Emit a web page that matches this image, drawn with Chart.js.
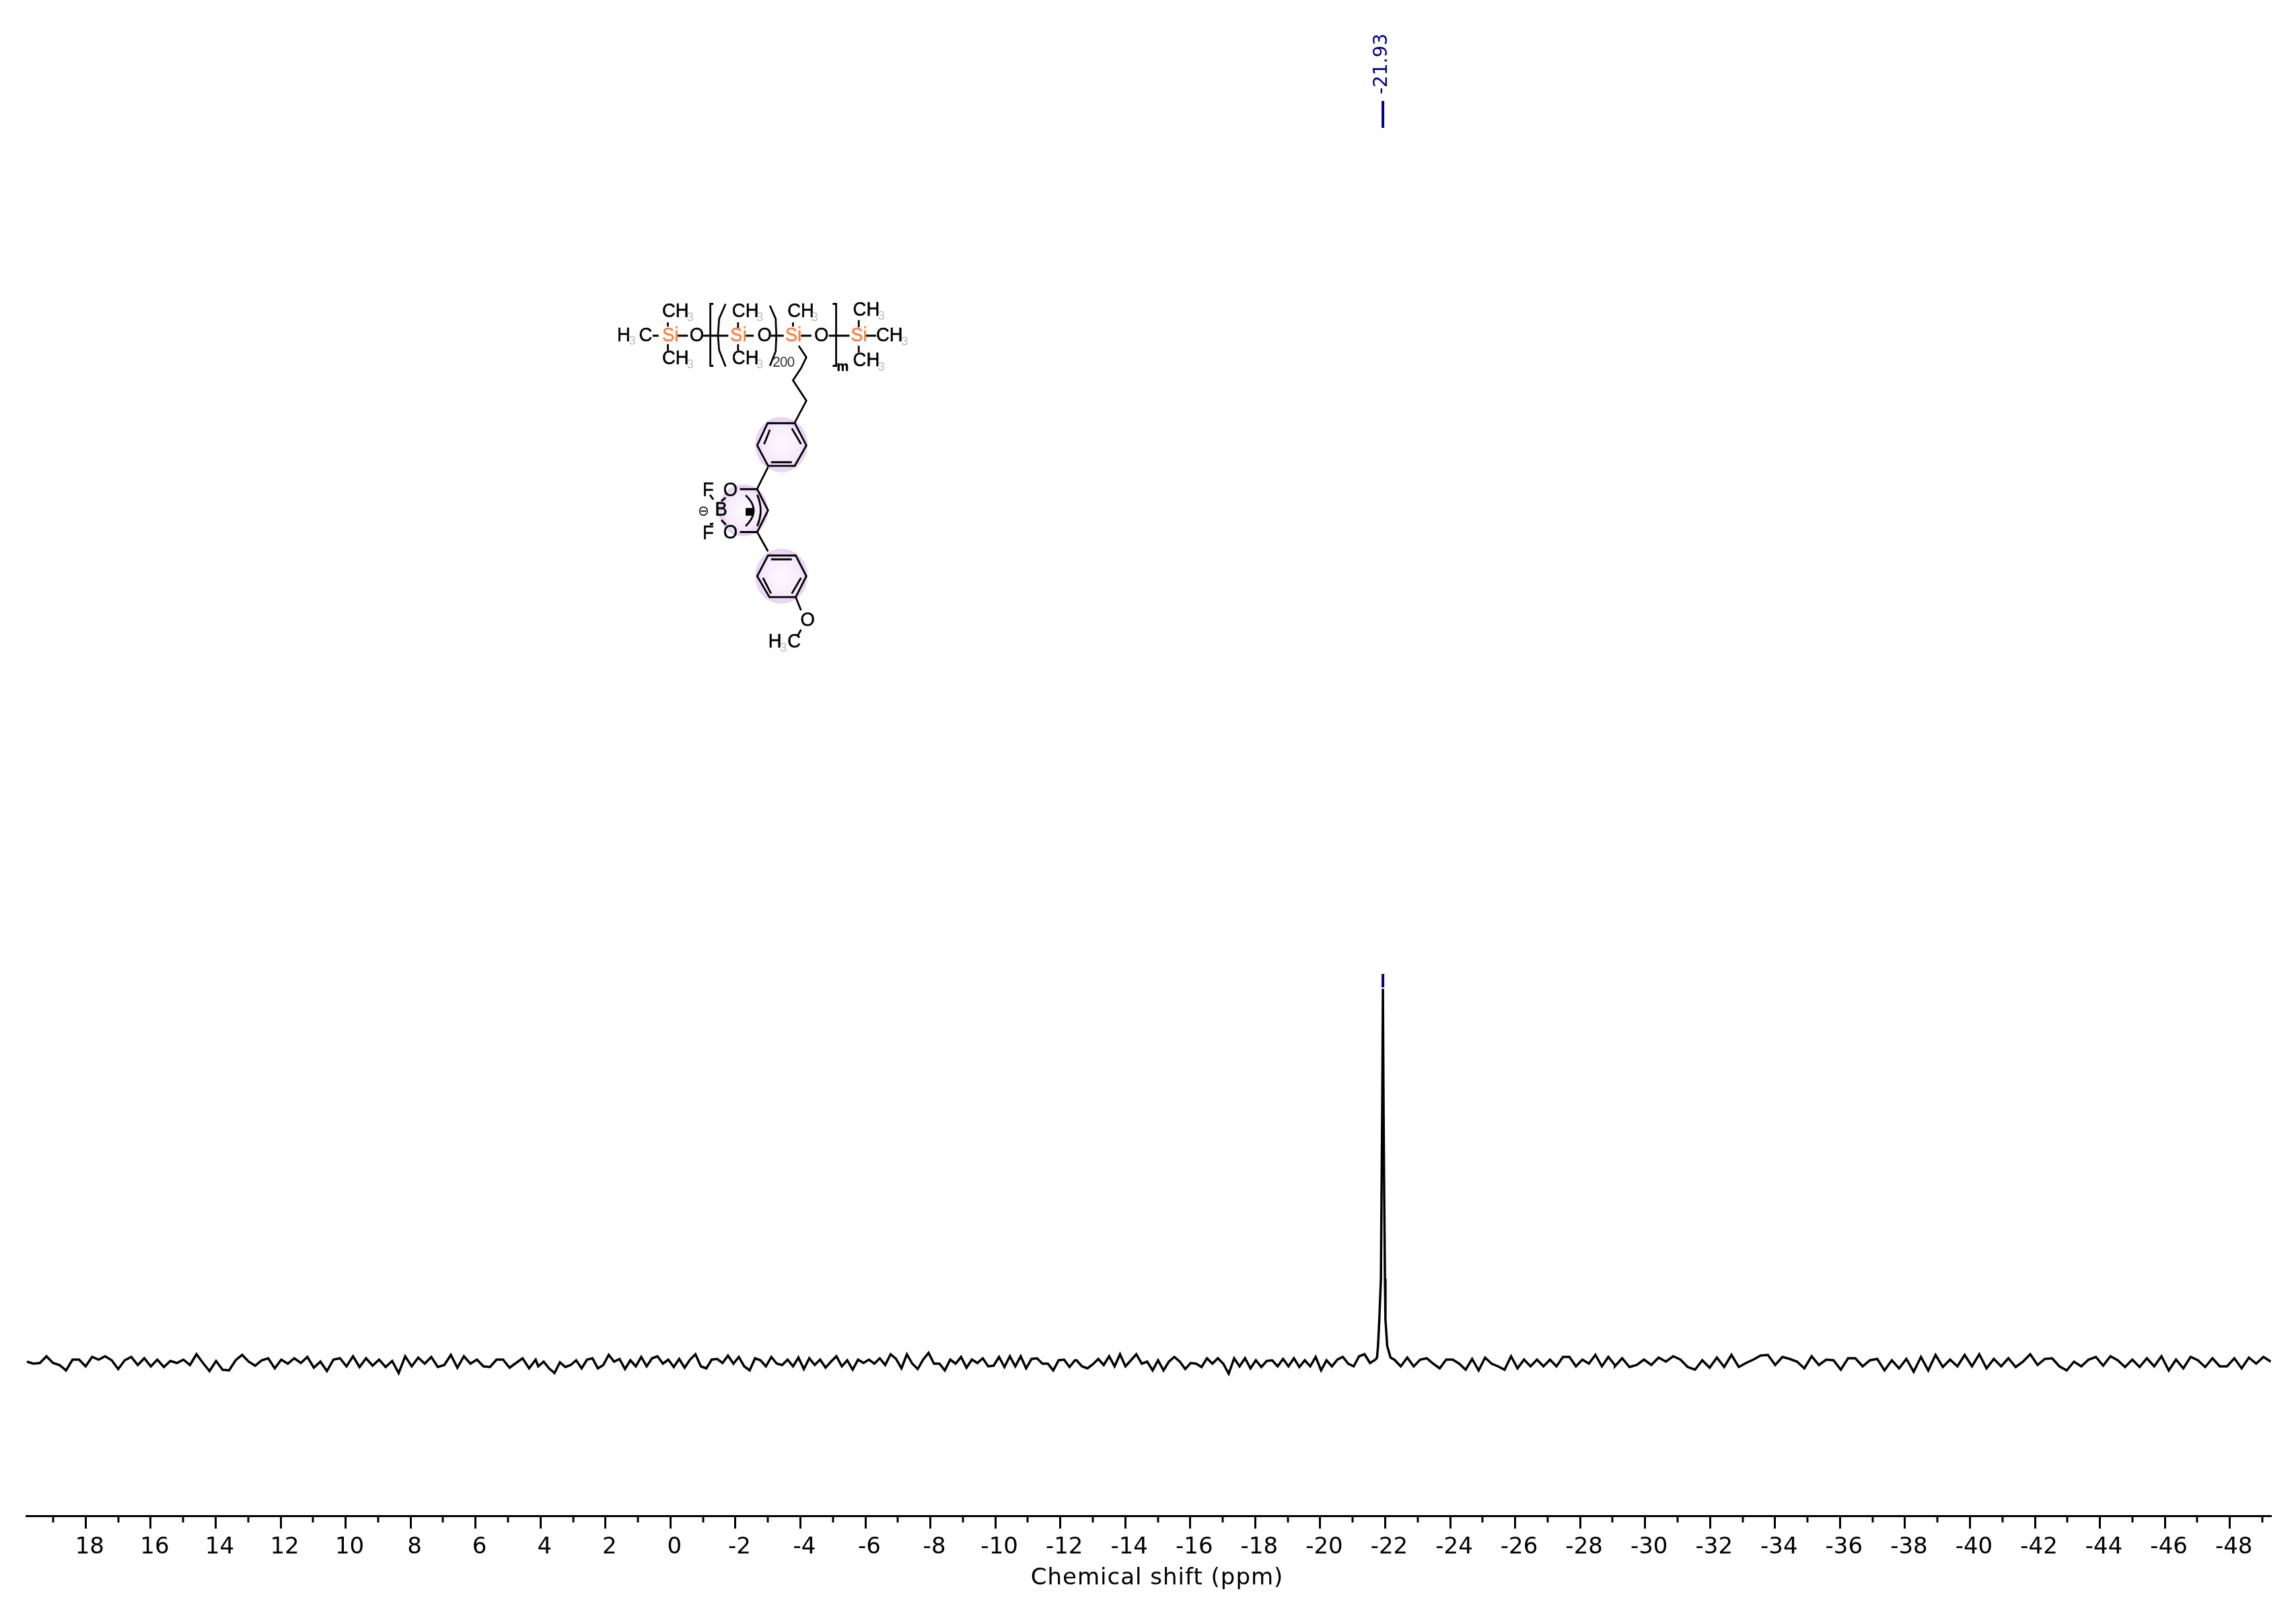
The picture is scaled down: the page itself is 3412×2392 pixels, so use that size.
<!DOCTYPE html>
<html lang="en">
<head>
    <meta charset="UTF-8">
    <title>29Si NMR spectrum</title>
    <script src="https://cdnjs.cloudflare.com/ajax/libs/Chart.js/4.4.1/chart.umd.min.js"></script>
    <style>
        html, body { margin: 0; padding: 0; background: #fff; }
        #wrap { position: relative; width: 3412px; height: 2392px; overflow: hidden; }
        canvas { position: absolute; left: 0; top: 0; }
        #molecule { position: absolute; left: 0; top: 0; }
        #molecule text { font-family: "Liberation Sans", sans-serif; font-size: 80px; fill: #000; stroke: #000; stroke-width: 1.5px; }
        #molecule text.si { fill: #ff7f3f; stroke: #ff7f3f; }
        #molecule text.sub { fill: #bdbdbd; stroke: none; font-size: 52px; }
        #molecule path { fill: none; stroke: #000; stroke-width: 8; }
    </style>
</head>
<body>
<div id="wrap">
    <canvas id="nmrChart" width="3412" height="2392"></canvas>
    <svg id="molecule" width="3412" height="2392" xmlns="http://www.w3.org/2000/svg">
        <defs>
            <radialGradient id="ringFill">
                <stop offset="0" stop-color="#fdfaff"/>
                <stop offset="0.7" stop-color="#f6eafb"/>
                <stop offset="1" stop-color="#e8cef5"/>
            </radialGradient>
        </defs>
        <g transform="translate(880 420) scale(0.343 0.358)">
            <circle cx="820" cy="672" r="114" fill="url(#ringFill)"/>
            <circle cx="820" cy="1218" r="114" fill="url(#ringFill)"/>
            <circle cx="655" cy="945" r="108" fill="url(#ringFill)"/>
            <!-- backbone -->
            <path d="M328 165V182M328 255V282M262 220H288M370 220H415M480 220H590M632 165V195M632 255V282M665 220H700M775 220H830M870 165V182M905 220H950M1025 220H1115M1155 155V185M1185 220H1230M1155 262V290"/>
            <path d="M525 88H512V345H525M1042 88H1057V345H1042"/>
            <path d="M578 88L550 150L545 220L550 280L578 348M770 95L795 150L798 220L795 285L770 345"/>
            <!-- propyl chain and rings -->
            <path d="M895 262L928 310L905 355L870 405L928 490L878 580"/>
            <path d="M760 583H878L928 675L878 760H762L715 675ZM775 745H865M745 670L770 610M905 670L865 605"/>
            <path d="M762 765L715 855M640 857H715L762 945L715 1035H640M715 1035L762 1115"/>
            <path d="M665 882Q735 945 665 1010M715 880Q745 945 715 1010M525 900L510 880M525 1000L510 1002M578 892L560 907M560 985L580 1005"/>
            <path d="M762 1132H882L928 1218L882 1305H768L715 1218ZM775 1148H865M740 1225L775 1290M905 1225L865 1290"/>
            <path d="M882 1305L905 1360M905 1440L890 1465"/>
            <rect x="665" y="935" width="32" height="32" fill="#000"/>
            <!-- labels -->
            <text x="303" y="142">CH</text><text class="sub" x="410" y="160">3</text>
            <text x="108" y="242">H</text><text class="sub" x="160" y="258">3</text><text x="203" y="242">C</text>
            <text class="si" x="303" y="242">Si</text>
            <text x="303" y="338">CH</text><text class="sub" x="410" y="355">3</text>
            <text x="422" y="242">O</text>
            <text x="606" y="142">CH</text><text class="sub" x="712" y="160">3</text>
            <text class="si" x="598" y="242">Si</text>
            <text x="606" y="338">CH</text><text class="sub" x="712" y="355">3</text>
            <text x="716" y="242">O</text>
            <text x="782" y="348" style="font-size:60px;fill:#333;stroke:none;letter-spacing:-2px">200</text>
            <text x="846" y="142">CH</text><text class="sub" x="950" y="160">3</text>
            <text class="si" x="836" y="242">Si</text>
            <text x="962" y="242">O</text>
            <text x="1060" y="366" style="font-size:58px;font-weight:bold">m</text>
            <text x="1130" y="136">CH</text><text class="sub" x="1238" y="155">3</text>
            <text class="si" x="1120" y="242">Si</text>
            <text x="1230" y="242">CH</text><text class="sub" x="1340" y="260">3</text>
            <text x="1130" y="346">CH</text><text class="sub" x="1238" y="365">3</text>
            <text x="478" y="886">F</text>
            <text x="568" y="886">O</text>
            <text x="532" y="966">B</text>
            <text x="458" y="966" style="font-size:60px;stroke:none">&#8854;</text>
            <text x="478" y="1064">F</text>
            <text x="568" y="1062">O</text>
            <text x="902" y="1425">O</text>
            <text x="763" y="1515">H</text><text class="sub" x="814" y="1530">3</text><text x="846" y="1515">C</text>
        </g>
    </svg>
</div>

<script>
    // x axis, ppm (reversed)
    const axisLeftPpm = 19.83;
    const axisRightPpm = -49.27;
    const majorTicks = [18, 16, 14, 12, 10, 8, 6, 4, 2, 0, -2, -4, -6, -8, -10, -12, -14, -16, -18, -20, -22, -24, -26, -28, -30, -32, -34, -36, -38, -40, -42, -44, -46, -48];
    const minorTicks = [19, 17, 15, 13, 11, 9, 7, 5, 3, 1, -1, -3, -5, -7, -9, -11, -13, -15, -17, -19, -21, -23, -25, -27, -29, -31, -33, -35, -37, -39, -41, -43, -45, -47, -49];
    const xTitle = 'Chemical shift (ppm)';

    // peak pick
    const peakShift = -21.93;
    const peakLabel = '-21.93';
    const peakMarkLow = [556, 576];
    const peakMarkHigh = [1833, 1873];

    const rangeA = [19.81, 4.15];
    const noiseA = [0, -3, -2, 8, -2, -5, -13, 3, 3, -7, 7, 3, 8, 2, -11, 2, 7, -5, 5, -7, 3, -8, 1, -2, 3, -5, 11, -2, -14, 1, -12, -13, 2, 10, 0, -6, 2, 5, -10, 3, -3, 5, -2, 7, -9, 0, -14, 3, 5, -7, 8, -8, 5, -6, 3, -8, 1, -17, 8, -7, 6, -3, 7, -8, -5, 10, -9, 8, -3, 3, -7, -8, 3, 3, -9, -2, 5, -10, 3];
    const rangeB = [4.07, -12.45];
    const noiseB = [-7, 0, -10, -17, -1, -8, -5, 2, -10, 3, 5, -10, -5, 10, 0, 4, -11, 2, -7, 7, -7, 5, 8, -3, 3, -8, 4, -9, 3, 11, -7, -10, 3, 4, -2, 9, -3, 7, -7, -13, 5, 2, -7, 7, -3, -5, 3, -7, 6, -11, 5, -5, 3, -9, 0, 8, -7, 2, -12, 3, -2, 3, -3, 5, -5, 11, 4, -10, 11, -3, -11, 3, 13, -3, -3, -13, 3, -3, 7, -9, 3, -2, 5, -7, -6, 7, -8, 8, -7, 8, -10, 4, 5, -3, -3, -13, 2, 3, -8, 2];
    const rangeC = [-12.5, -21.7];
    const noiseC = [2, -7, -10, -4, 4, -5, 8, -7, 11, -7, 2, 11, -3, 0, -13, 2, -13, 0, 7, 0, -11, -2, -3, -8, 5, -3, 5, -3, -18, 5, -7, 5, -10, 2, -8, 1, 2, -7, 4, -7, 5, -8, 2, -7, 7, -13, 2, -7, 3, 7, -3, -7, 8, 11, -2, 3];
    const rangeD = [-22.28, -29.07];
    const noiseD = [3, -7, 6, -7, 3, 5, -3, -10, 3, 3, -3, -12, 4, -13, 6, -3, -7, -12, 8, -10, 3, -7, 3, -7, 3, -7, 7, 7, -7, 3, -3, 10, -7, 7, -5];
    const rangeE = [-29.07, -49.26];
    const noiseE = [-7, 5, -8, -5, 3, -5, 6, 0, 8, 3, -8, -12, 2, -9, 6, -8, 10, -8, -2, 3, 9, 10, -5, 7, 4, 0, -10, 8, -5, 3, 2, -12, 5, 5, -7, 2, 4, -13, 2, -10, 4, -15, 7, -13, 10, -8, 3, -7, 10, -7, 11, -10, 4, -7, 5, -8, 0, 11, -5, 4, 5, -7, -13, 0, -7, 3, 7, -6, 8, 2, -8, 3, -8, 5, -7, 8, -13, 3, -10, 7, 2, -8, 5, -7, -7, 5, -10, 6, -3, 7, 0];

    // the resonance itself
    const peakShifts = [-21.748, -21.779, -21.82, -21.869, -21.887, -21.909, -21.93, -21.951, -21.97, -21.993, -22.008, -22.063, -22.166];
    const peakValues = [6, 23, 63, 123, 247, 373, 554, 373, 247, 123, 63, 23, 6];

    function stretch(range, values) {
        const step = (range[1] - range[0]) / (values.length - 1);
        return values.map((v, i) => ({ x: range[0] + i * step, y: v }));
    }

    const spectrum = [
        ...stretch(rangeA, noiseA),
        ...stretch(rangeB, noiseB),
        ...stretch(rangeC, noiseC),
        ...peakShifts.map((s, i) => ({ x: s, y: peakValues[i] })),
        ...stretch(rangeD, noiseD),
        ...stretch(rangeE, noiseE)
    ];

    const textFont = '"DejaVu Sans", sans-serif';

    // minor ticks, peak label and axis title
    const spectrumExtras = {
        id: 'spectrumExtras',
        afterDraw(chart) {
            const ctx = chart.ctx;
            const x = chart.scales.x;
            const bottom = chart.chartArea.bottom;
            ctx.save();
            ctx.strokeStyle = '#000';
            ctx.lineWidth = 3;
            minorTicks.forEach(v => {
                const px = Math.round(x.getPixelForValue(v));
                ctx.beginPath();
                ctx.moveTo(px, bottom);
                ctx.lineTo(px, bottom + 10);
                ctx.stroke();
            });
            ctx.fillStyle = '#000';
            ctx.font = '34px ' + textFont;
            ctx.textAlign = 'center';
            ctx.textBaseline = 'alphabetic';
            ctx.letterSpacing = '1px';
            ctx.fillText(xTitle, x.getPixelForValue(-14.98), 2354);
            ctx.letterSpacing = '0px';
            ctx.translate(x.getPixelForValue(peakShift) + 6, 140);
            ctx.rotate(-Math.PI / 2);
            ctx.fillStyle = '#00008b';
            ctx.font = '28px ' + textFont;
            ctx.textAlign = 'left';
            ctx.fillText(peakLabel, 0, 0);
            ctx.restore();
        }
    };

    new Chart(document.getElementById('nmrChart').getContext('2d'), {
        type: 'line',
        data: {
            datasets: [
                { data: spectrum, borderColor: '#000', borderWidth: 3.5, pointRadius: 0, tension: 0 },
                { data: peakMarkLow.map(v => ({ x: peakShift, y: v })), borderColor: '#00008b', borderWidth: 4, pointRadius: 0 },
                { data: peakMarkHigh.map(v => ({ x: peakShift, y: v })), borderColor: '#00008b', borderWidth: 4, pointRadius: 0 }
            ]
        },
        plugins: [spectrumExtras],
        options: {
            responsive: false,
            animation: false,
            layout: { padding: { left: 39, right: 37, top: 0, bottom: 0 } },
            plugins: { legend: { display: false }, tooltip: { enabled: false } },
            scales: {
                x: {
                    type: 'linear',
                    reverse: true,
                    min: axisRightPpm,
                    max: axisLeftPpm,
                    afterBuildTicks: axis => { axis.ticks = majorTicks.map(v => ({ value: v })); },
                    afterFit: axis => { axis.height = 140; },
                    grid: { drawOnChartArea: false, tickLength: 19, tickWidth: 3, tickColor: '#000' },
                    border: { color: '#000', width: 3 },
                    ticks: {
                        autoSkip: false,
                        maxRotation: 0,
                        padding: 8,
                        labelOffset: 6,
                        color: '#000',
                        font: { family: textFont, size: 34 }
                    }
                },
                y: { display: false, min: -229, max: 2023 }
            }
        }
    });
</script>
</body>
</html>
